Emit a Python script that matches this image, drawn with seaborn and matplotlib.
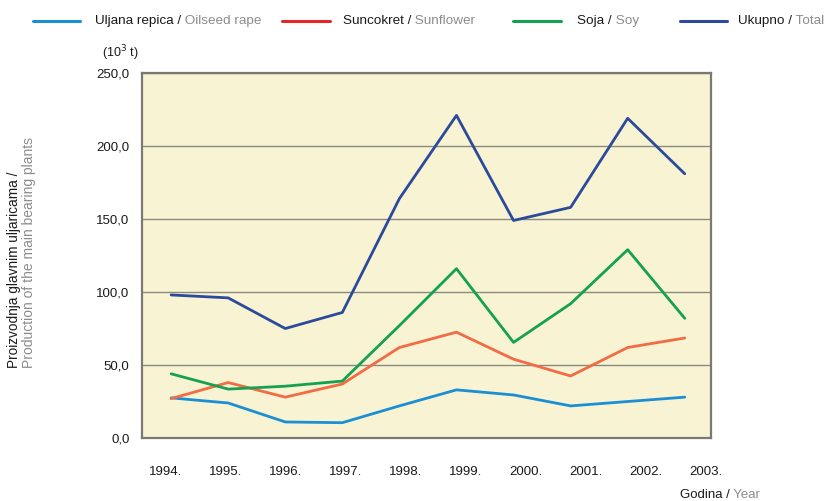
import matplotlib
matplotlib.use("Agg")
import matplotlib.pyplot as plt
from matplotlib.lines import Line2D
import pandas as pd
import seaborn as sns

# production of the main oil bearing plants, 10^3 t
years = [1994, 1995, 1996, 1997, 1998, 1999, 2000, 2001, 2002, 2003]
rape = [27.5, 24, 11, 10.5, 22, 33, 29.5, 22, 25, 28]
sunflower = [27, 38, 28, 37, 62, 72.5, 54, 42.5, 62, 68.5]
soy = [44, 33.5, 35.5, 39, 77, 116, 65.5, 92, 129, 82]
total = [98, 96, 75, 86, 164, 221, 149, 158, 219, 181]

series_hr = ["Uljana repica", "Suncokret", "Soja", "Ukupno"]
series_en = ["Oilseed rape", "Sunflower", "Soy", "Total"]
line_colors = ["#1b8fd2", "#f26b45", "#15a150", "#2c4a9c"]
legend_colors = ["#1b8fd2", "#e2262a", "#15a150", "#2c4a9c"]

y_ticks = [0, 50, 100, 150, 200, 250]
y_labels = ["0,0", "50,0", "100,0", "150,0", "200,0", "250,0"]
x_labels = [f"{y}." for y in years]

df = pd.DataFrame({
    "year": years * 4,
    "value": rape + sunflower + soy + total,
    "series": sum([[s] * len(years) for s in series_hr], []),
})

sns.set_style("white")
plt.rcParams["font.family"] = ["Liberation Sans", "DejaVu Sans"]
plt.rcParams["font.size"] = 9

fig = plt.figure(figsize=(8.28, 5.01), dpi=100)
ax = fig.add_axes([0.1715, 0.1257, 0.6872, 0.7285])
ax.set_facecolor("#f8f3d3")

sns.lineplot(data=df, x="year", y="value", hue="series", hue_order=series_hr,
             palette=line_colors, linewidth=2.0, legend=False, ax=ax)

ax.set_ylim(0, 250)
ax.set_xlim(1993.49, 2003.46)
ax.set_yticks(y_ticks)
ax.set_yticklabels(y_labels)
ax.yaxis.grid(True, color="#8a8a80", linewidth=1.0)
ax.set_axisbelow(True)
ax.tick_params(axis="y", length=3, width=1, color="#8a8a80", pad=6,
               labelsize=9.5, labelcolor="#1a1a1a")

# labels in the original are spread a bit wider than the points
label_pos = [y - 0.1 + 0.053 * (y - years[0]) for y in years]
ax.set_xticks(label_pos)
ax.set_xticklabels(x_labels)
ax.tick_params(axis="x", length=0, pad=20, labelsize=9.5, labelcolor="#1a1a1a")
ax.set_xlabel("")
ax.set_ylabel("")

for sp in ax.spines.values():
    sp.set_color("#7a7a74")
    sp.set_linewidth(1.6)


def two_tone(x, y, dark, light, **kw):
    t = fig.text(x, y, dark + " /", color="#1a1a1a", va="center", **kw)
    a = ax.annotate(" " + light, xy=(1, 0.5), xycoords=t, va="center",
                    ha="left", color="#8c8c8c", annotation_clip=False, **kw)
    return t, a


W, H = 828, 501
leg_lines = [(33, 80, 95), (282, 330, 343), (513, 561, 577), (680, 727, 738)]
for (x0, x1, tx), c, hr, en in zip(leg_lines, legend_colors, series_hr, series_en):
    fig.add_artist(Line2D([x0 / W, x1 / W], [1 - 21 / H] * 2, color=c,
                          linewidth=2.2, transform=fig.transFigure))
    two_tone(tx / W, 1 - 21 / H, hr, en, fontsize=9.7)

fig.text(102 / W, 1 - 53 / H, "(10$^{3}$ t)", fontsize=9, va="center", color="#1a1a1a")

fig.text(14 / W, 1 - 368 / H, "Proizvodnja glavnim uljaricama /", rotation=90,
         ha="center", va="bottom", fontsize=9.8, color="#1a1a1a")
fig.text(29 / W, 1 - 368 / H, "Production of the main bearing plants", rotation=90,
         ha="center", va="bottom", fontsize=10, color="#8c8c8c")

two_tone(680 / W, 1 - 495 / H, "Godina", "Year", fontsize=9.5)

fig.savefig("out.png", dpi=100)
